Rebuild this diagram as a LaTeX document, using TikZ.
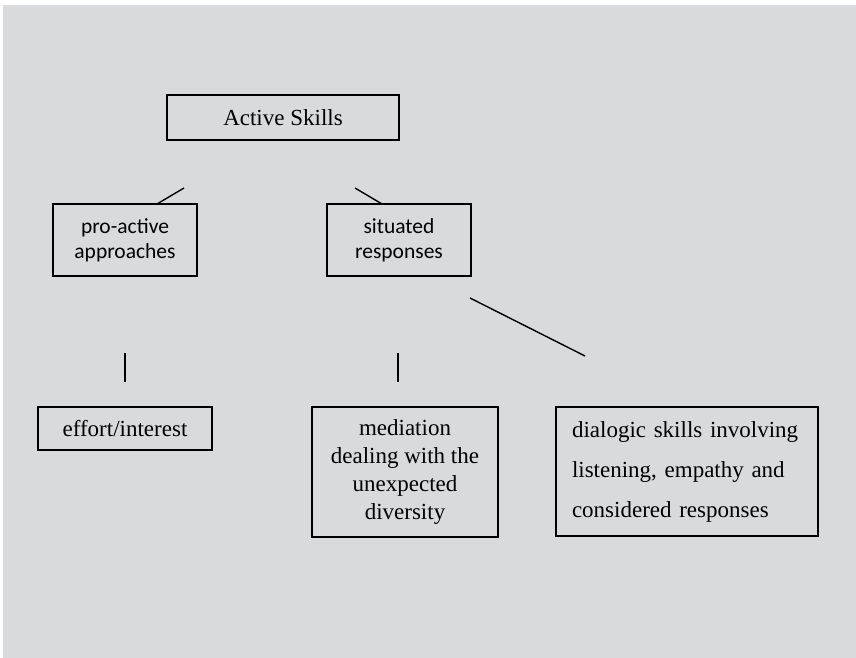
\documentclass[tikz,border=0pt]{standalone}
\usepackage{fontspec}
\setmainfont{Liberation Serif}
\newfontfamily\labelsans{Carlito}
\definecolor{panel}{RGB}{217,218,220}
\begin{document}
\begin{tikzpicture}[x=1pt,y=-1pt,
  box/.style={draw=black,line width=1.5pt,rectangle,inner sep=0pt,anchor=center},
  serifbox/.style={box,font=\fontsize{23}{28}\selectfont,align=center},
  sansbox/.style={box,font=\labelsans\fontsize{21.5}{25}\selectfont,align=center,
    minimum width=144pt,minimum height=72pt},
  link/.style={draw=black,line width=1.4pt}]
  % page and grey panel
  \useasboundingbox (0,0) rectangle (856,658);
  \fill[white] (0,0) rectangle (856,658);
  \fill[panel] (3,5) rectangle (856,658);

  % boxes
  \node[serifbox,minimum width=232pt,minimum height=45pt] (active) at (283,117.5) {Active Skills};
  \node[sansbox] (pro) at (125,240) {pro-active\\approaches};
  \node[sansbox] (sit) at (399,240) {situated\\responses};
  \node[serifbox,minimum width=174pt,minimum height=43pt] (effort) at (125,428.5) {effort/interest};
  \node[serifbox,line width=1.8pt,minimum width=186pt,minimum height=130pt] (med) at (405,472)
    {mediation\\dealing with the\\unexpected\\diversity};
  \node[box,font=\fontsize{23}{40}\selectfont,align=left,text width=230pt,inner xsep=16pt,
    minimum height=129pt] (dia) at (687,471.5)
    {dialogic skills involving\\listening, empathy and\\considered responses};

  % connector stubs
  \coordinate (proA) at (157,204);
  \coordinate (proB) at (184,188);
  \coordinate (sitA) at (355,188);
  \coordinate (sitB) at (382,204);
  \coordinate (diaA) at (470,298);
  \coordinate (diaB) at (585,356);
  \coordinate (effA) at (125,353);
  \coordinate (effB) at (125,382);
  \coordinate (medA) at (398,353);
  \coordinate (medB) at (398,382);
  \draw[link] (proA) -- (proB);
  \draw[link] (sitA) -- (sitB);
  \draw[link] (diaA) -- (diaB);
  \draw[link] (effA) -- (effB);
  \draw[link] (medA) -- (medB);
\end{tikzpicture}
\end{document}
